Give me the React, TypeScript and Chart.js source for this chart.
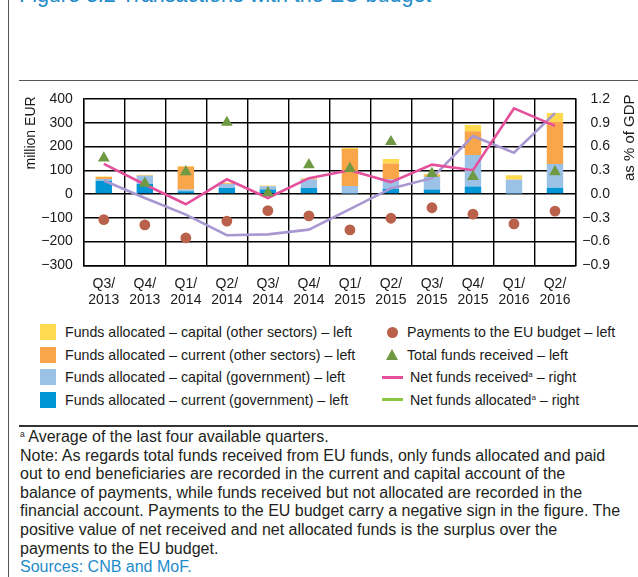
import React, { useEffect, useRef } from "react";
import { Chart, registerables } from "chart.js";

Chart.register(...registerables);

// ---------- data ----------
const categories: string[][] = [
  ["Q3/", "2013"], ["Q4/", "2013"], ["Q1/", "2014"], ["Q2/", "2014"],
  ["Q3/", "2014"], ["Q4/", "2014"], ["Q1/", "2015"], ["Q2/", "2015"],
  ["Q3/", "2015"], ["Q4/", "2015"], ["Q1/", "2016"], ["Q2/", "2016"],
];

// million EUR (left axis), stacked bottom to top
const currentGov = [56, 42, 11, 25, 19, 25, 2, 22, 19, 32, 2, 26];
const capitalGov = [7, 35, 8, 17, 14, 36, 32, 40, 54, 132, 58, 100];
const currentOther = [8, 2, 96, 3, 1, 3, 155, 66, 6, 100, 1, 178];
const capitalOther = [3, 2, 3, 2, 2, 3, 4, 19, 5, 26, 18, 37];

const paymentsToEU = [-108, -130, -185, -114, -70, -92, -151, -102, -58, -85, -126, -72];
const totalReceived: (number | null)[] = [151, 45, 93, 301, 5, 123, 107, 220, 86, 73, null, 93];

// % of GDP (right axis)
const netReceived = [0.38, 0.12, -0.13, 0.185, -0.05, 0.2, 0.3, 0.15, 0.37, 0.3, 1.08, 0.86];
const netAllocated = [0.17, -0.05, -0.26, -0.52, -0.51, -0.45, -0.19, 0.07, 0.2, 0.73, 0.52, 1.02];

const leftTicks = { min: -300, max: 400, step: 100 };
const rightTicks = { min: -0.9, max: 1.2, step: 0.3 };

const labels = {
  capitalOther: "Funds allocated – capital (other sectors) – left",
  currentOther: "Funds allocated – current (other sectors) – left",
  capitalGov: "Funds allocated – capital (government) – left",
  currentGov: "Funds allocated – current (government) – left",
  payments: "Payments to the EU budget – left",
  total: "Total funds received – left",
  netReceived: "Net funds received",
  netAllocated: "Net funds allocated",
};

const noteLines = [
  "Note: As regards total funds received from EU funds, only funds allocated and paid",
  "out to end beneficiaries are recorded in the current and capital account of the",
  "balance of payments, while funds received but not allocated are recorded in the",
  "financial account. Payments to the EU budget carry a negative sign in the figure. The",
  "positive value of net received and net allocated funds is the surplus over the",
  "payments to the EU budget.",
];

// ---------- styles ----------
const C = {
  yellow: "#FFD94F",
  orange: "#F9A54A",
  lightBlue: "#9BC2E6",
  darkBlue: "#0096D6",
  brown: "#B9614B",
  green: "#6F9A43",
  pink: "#E4509B",
  purple: "#A898D1",
  legendGreen: "#8CC63F",
  blueText: "#1E8BCB",
  text: "#1a1a1a",
  grid: "#000000",
};
const FONT = '"Liberation Sans", Arial, Helvetica, sans-serif';

const minus = (s: string) => s.replace("-", "\u2212");

const axisTitles = {
  id: "axisTitles",
  afterDraw(chart: any) {
    const { ctx, chartArea } = chart;
    ctx.save();
    ctx.font = `14px ${FONT}`;
    ctx.fillStyle = C.text;
    ctx.textBaseline = "middle";
    ctx.textAlign = "right";
    ctx.translate(31.5, chartArea.top - 2.5);
    ctx.rotate(-Math.PI / 2);
    ctx.fillText("million EUR", 0, 0);
    ctx.restore();

    ctx.save();
    ctx.font = `15px ${FONT}`;
    ctx.fillStyle = C.text;
    ctx.textBaseline = "middle";
    ctx.textAlign = "right";
    ctx.translate(630, chartArea.top - 4.5);
    ctx.rotate(-Math.PI / 2);
    ctx.fillText("as % of GDP", 0, 0);
    ctx.restore();
  },
};

function ChartCanvas() {
  const ref = useRef<HTMLCanvasElement | null>(null);
  useEffect(() => {
    if (!ref.current) return;
    const tickFont = { family: FONT, size: 14 };
    const barBase = {
      type: "bar" as const,
      yAxisID: "y",
      stack: "bars",
      barPercentage: 0.4,
      categoryPercentage: 1,
      borderWidth: 0,
      order: 3,
    };
    const chart = new Chart(ref.current, {
      type: "bar",
      data: {
        labels: categories,
        datasets: [
          { ...barBase, label: labels.currentGov, data: currentGov, backgroundColor: C.darkBlue },
          { ...barBase, label: labels.capitalGov, data: capitalGov, backgroundColor: C.lightBlue },
          { ...barBase, label: labels.currentOther, data: currentOther, backgroundColor: C.orange },
          { ...barBase, label: labels.capitalOther, data: capitalOther, backgroundColor: C.yellow },
          {
            type: "line", label: labels.netAllocated, data: netAllocated, yAxisID: "y1",
            borderColor: C.purple, borderWidth: 2.6, pointRadius: 0, tension: 0, order: 2.5,
          },
          {
            type: "line", label: labels.netReceived, data: netReceived, yAxisID: "y1",
            borderColor: C.pink, borderWidth: 2.6, pointRadius: 0, tension: 0, order: 2,
          },
          {
            type: "line", label: labels.payments, data: paymentsToEU, yAxisID: "y", stack: "pay",
            showLine: false, pointStyle: "circle", pointRadius: 5.4, pointBorderWidth: 0,
            pointBackgroundColor: C.brown, borderColor: C.brown, backgroundColor: C.brown, order: 1,
          },
          {
            type: "line", label: labels.total, data: totalReceived, yAxisID: "y", stack: "tot",
            showLine: false, pointStyle: "triangle", pointRadius: 6.8, pointBorderWidth: 0,
            pointBackgroundColor: C.green, borderColor: C.green, backgroundColor: C.green, order: 1,
          },
        ] as any,
      },
      options: {
        responsive: false,
        animation: false,
        layout: { padding: { left: 0, right: 28, top: 14.7, bottom: 0 } },
        plugins: { legend: { display: false }, tooltip: { enabled: false } },
        scales: {
          x: {
            stacked: true,
            offset: true,
            grid: { color: C.grid, lineWidth: 1.4, drawTicks: false, offset: true },
            border: { display: true, color: C.grid, width: 1.4 },
            ticks: { font: tickFont, color: C.text, padding: 10, maxRotation: 0, autoSkip: false },
            afterFit: (s: any) => { s.height = 54.7; },
          },
          y: {
            stacked: true,
            position: "left",
            min: leftTicks.min,
            max: leftTicks.max,
            grid: { color: C.grid, lineWidth: 1.4, drawTicks: false },
            border: { display: true, color: C.grid, width: 1.4 },
            ticks: {
              stepSize: leftTicks.step, font: tickFont, color: C.text, padding: 10.5,
              callback: (v: any) => minus(String(v)),
            },
            afterFit: (s: any) => { s.width = 83.3; },
          },
          y1: {
            position: "right",
            min: rightTicks.min,
            max: rightTicks.max,
            grid: { display: false, drawTicks: false },
            border: { display: true, color: C.grid, width: 1.4 },
            ticks: {
              stepSize: rightTicks.step, font: tickFont, color: C.text, crossAlign: "far",
              callback: (v: any) => (Math.abs(v) < 1e-9 ? "0.0" : minus(Number(v).toFixed(1))),
            },
            afterFit: (s: any) => { s.width = 34.5; },
          },
        },
      } as any,
      plugins: [axisTitles],
    });
    return () => chart.destroy();
  }, []);
  return (
    <canvas
      ref={ref}
      width={638}
      height={240}
      style={{ position: "absolute", left: 0, top: 80, width: 638, height: 240 }}
    />
  );
}

const rowY = (i: number) => 332 + i * 22.6;

function Legend() {
  const left = [
    { label: labels.capitalOther, color: C.yellow },
    { label: labels.currentOther, color: C.orange },
    { label: labels.capitalGov, color: C.lightBlue },
    { label: labels.currentGov, color: C.darkBlue },
  ];
  const textStyle = (x: number, i: number): React.CSSProperties => ({
    position: "absolute",
    left: x,
    top: rowY(i) - 9,
    height: 18,
    lineHeight: "18px",
    fontSize: 14.2,
    fontFamily: FONT,
    color: C.text,
    whiteSpace: "nowrap",
  });
  const supStyle: React.CSSProperties = { fontSize: 8, verticalAlign: "5px", lineHeight: 0 };
  return (
    <>
      {left.map((it, i) => (
        <React.Fragment key={i}>
          <div style={{ position: "absolute", left: 40, top: rowY(i) - 8, width: 16, height: 16, background: it.color }} />
          <div style={textStyle(65, i)}>{it.label}</div>
        </React.Fragment>
      ))}
      <div style={{ position: "absolute", left: 386.5, top: rowY(0) - 5.5, width: 11, height: 11, borderRadius: "50%", background: C.brown }} />
      <div style={textStyle(407, 0)}>{labels.payments}</div>
      <svg style={{ position: "absolute", left: 386, top: rowY(1) - 6 }} width={12} height={11}>
        <polygon points="6,0 12,11 0,11" fill={C.green} />
      </svg>
      <div style={textStyle(407, 1)}>{labels.total}</div>
      <div style={{ position: "absolute", left: 382, top: rowY(2) - 1.5, width: 21, height: 3, background: C.pink }} />
      <div style={textStyle(410, 2)}>
        {labels.netReceived}<sup style={supStyle}>a</sup> – right
      </div>
      <div style={{ position: "absolute", left: 382, top: rowY(3) - 1.5, width: 21, height: 3, background: C.legendGreen }} />
      <div style={textStyle(410, 3)}>
        {labels.netAllocated}<sup style={supStyle}>a</sup> – right
      </div>
    </>
  );
}

function Notes() {
  const lineStyle: React.CSSProperties = {
    height: 18.6,
    lineHeight: "18.6px",
    whiteSpace: "nowrap",
  };
  return (
    <div
      style={{
        position: "absolute",
        left: 20,
        top: 428,
        fontFamily: FONT,
        fontSize: 16,
        color: "#231f20",
      }}
    >
      <div style={lineStyle}>
        <sup style={{ fontSize: 8.5, verticalAlign: "5px", lineHeight: 0 }}>a</sup> Average of the last four available quarters.
      </div>
      {noteLines.map((l, i) => (
        <div key={i} style={lineStyle}>{l}</div>
      ))}
      <div style={{ ...lineStyle, color: C.blueText }}>Sources: CNB and MoF.</div>
    </div>
  );
}

export default function App() {
  return (
    <div style={{ position: "absolute", left: 0, top: 0, width: 638, height: 577, overflow: "hidden", background: "#fff" }}>
      <div style={{ position: "absolute", left: 8, top: 0, width: 1, height: 577, background: "#555" }} />
      <div
        style={{
          position: "absolute",
          left: 19,
          top: -15.5,
          fontFamily: FONT,
          fontSize: 21.5,
          lineHeight: "21.5px",
          color: C.blueText,
          whiteSpace: "nowrap",
        }}
      >
        Figure 3.2 Transactions with the EU budget
      </div>
      <div style={{ position: "absolute", left: 19, top: 79.5, width: 619, height: 1.5, background: "#555" }} />
      <ChartCanvas />
      <Legend />
      <div style={{ position: "absolute", left: 19, top: 425, width: 619, height: 1.5, background: "#333" }} />
      <Notes />
    </div>
  );
}
